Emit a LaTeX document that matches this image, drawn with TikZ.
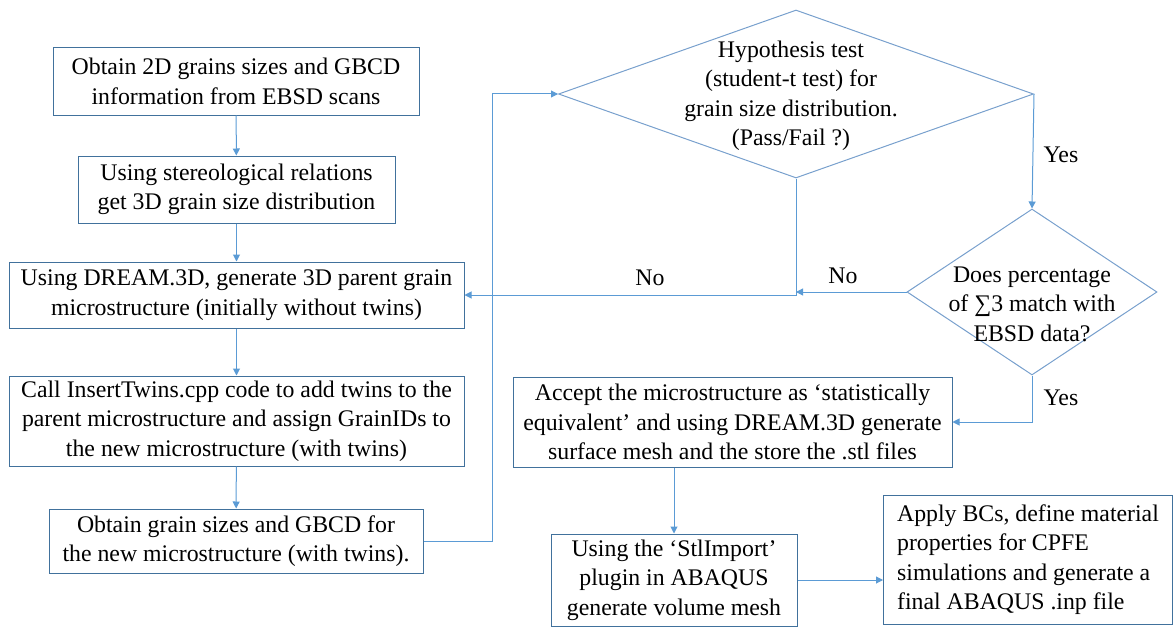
\documentclass[tikz,border=0pt]{standalone}
\usepackage{fontspec}
\setmainfont{Liberation Serif}
\usetikzlibrary{shapes.geometric,arrows.meta}
\definecolor{boxc}{RGB}{65,113,156}
\definecolor{linec}{RGB}{91,155,213}
\definecolor{diac}{RGB}{120,160,205}
\tikzset{
  txt/.style={font=\fontsize{23.8}{29.5}\selectfont, align=center},
  box/.style={txt, draw=boxc, line width=1pt, inner sep=0pt},
  dia/.style={diamond, draw=diac, line width=1pt, inner sep=0pt},
  conn/.style={draw=linec, line width=1pt, -{Triangle[length=7pt,width=7pt]}},
  lab/.style={font=\fontsize{23.8}{29.5}\selectfont}
}
\begin{document}
\begin{tikzpicture}[x=1pt,y=-1pt]
\useasboundingbox (0,0) rectangle (1176,634);
\node[box, minimum width=366, minimum height=67] (b1) at (236,81.5) {Obtain 2D grains sizes and GBCD\\information from EBSD scans};
\node[box, minimum width=317, minimum height=67] (b2) at (236.5,189.5) {Using stereological relations\\get 3D grain size distribution};
\node[box, minimum width=455, minimum height=66] (b3) at (236.5,295) {Using DREAM.3D, generate 3D parent grain\\microstructure (initially without twins)};
\node[box, minimum width=455, minimum height=90] (b4) at (236.5,421) {Call InsertTwins.cpp code to add twins to the\\parent microstructure and assign GrainIDs to\\the new microstructure (with twins)};
\node[box, minimum width=374, minimum height=64] (b5) at (236,541) {Obtain grain sizes and GBCD for\\the new microstructure (with twins).};
\node[dia, minimum width=475, minimum height=168] (d1) at (796,94) {};
\node[txt] (d1t) at (791,96) {Hypothesis test\\(student-t test) for\\grain size distribution.\\(Pass/Fail ?)};
\node[dia, minimum width=250, minimum height=166] (d2) at (1032,292) {};
\node[txt] (d2t) at (1032,304) {Does percentage\\of ∑3 match with\\EBSD data?};
\node[box, minimum width=439, minimum height=90] (b6) at (732.5,422) {Accept the microstructure as ‘statistically\\equivalent’ and using DREAM.3D generate\\surface mesh and the store the .stl files};
\node[box, minimum width=246, minimum height=92] (b7) at (674,580) {Using the ‘StlImport’\\plugin in ABAQUS\\generate volume mesh};
\node[box, minimum width=289, minimum height=129, align=left, anchor=west, inner xsep=12pt] (b8) at (883,559.5) {Apply BCs, define material\\properties for CPFE\\simulations and generate a\\final ABAQUS .inp file};
% connectors
\draw[conn] (b1) -- (b2);
\draw[conn] (b2) -- (b3);
\draw[conn] (b3) -- (b4);
\draw[conn] (b4) -- (b5);
\coordinate (lp) at (492,94);
\draw[conn] (b5.east) -- (b5.east -| lp) -- (lp) -- (d1.west);
\draw[conn] (d1.east) -- (d2.north);
\draw[conn] (d2.west) -- (d2.west -| d1.south);
\draw[conn] (d1.south) |- (b3.east);
\draw[conn] (d2.south) |- (b6.east);
\draw[conn] (b7.north |- b6.south) -- (b7.north);
\draw[conn] (b7.east) -- (b7.east -| b8.west);
% labels
\node[lab] (y1) at (1061,155) {Yes};
\node[lab] (n1) at (843,276) {No};
\node[lab] (n2) at (650,278) {No};
\node[lab] (y2) at (1061,398) {Yes};
\end{tikzpicture}
\end{document}
